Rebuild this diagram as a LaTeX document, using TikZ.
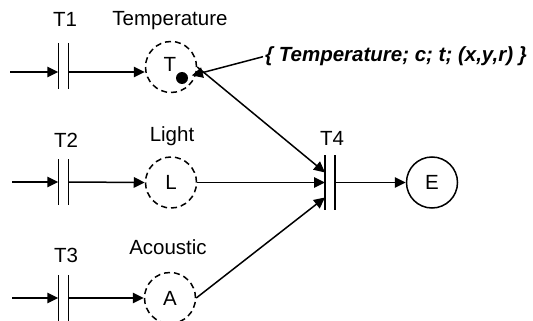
\documentclass[tikz,border=0pt]{standalone}
\usepackage{fontspec}
\setmainfont{Liberation Sans}
\usetikzlibrary{arrows.meta,positioning,calc}

\begin{document}
\begin{tikzpicture}[
  x=1pt, y=-1pt,
  every node/.style={font=\fontsize{20.5}{24}\selectfont},
  place/.style={circle, draw, line width=1.5pt, dash pattern=on 6pt off 4pt, minimum size=51pt, inner sep=0pt},
  final/.style={circle, draw, line width=1.5pt, minimum size=51pt, inner sep=0pt},
  trans/.style={minimum width=10pt, minimum height=46pt, inner sep=0pt, outer sep=0pt},
  lbl/.style={anchor=base, inner sep=0pt},
  arr/.style={line width=1.5pt, -{Triangle[length=11pt, width=10.5pt]}}
]
  \useasboundingbox (0,0) rectangle (533,321);

  % Transitions
  \node[trans] (t1) at (63.3, 66) {};
  \node[trans] (t2) at (63.3, 182) {};
  \node[trans] (t3) at (63.3, 298) {};
  \node[trans, minimum height=55pt] (t4) at (330, 182.5) {};
  \foreach \t in {t1,t2,t3,t4}
    \draw[line width=1.5pt] (\t.north west) -- (\t.south west) (\t.north east) -- (\t.south east);

  % Transition labels
  \node[lbl] (t1lbl) at (65, 27) {T1};
  \node[lbl] (t2lbl) at (66, 147) {T2};
  \node[lbl] (t3lbl) at (66, 262) {T3};
  \node[lbl] (t4lbl) at (332, 145) {T4};

  % Sensor places
  \node[place] (tp) at (171, 67) {};
  \node (tlet) at (170, 64.5) {T};
  \node[circle, fill, minimum size=12pt, inner sep=0pt] (tok) at (182, 78) {};
  \node[place] (lp) at (171, 182.5) {L};
  \node[place] (ap) at (170, 298) {A};
  \node[final] (ep) at (432, 182.5) {E};

  % Place labels
  \node[lbl] (tplbl) at (170, 26) {Temperature};
  \node[lbl] (lplbl) at (172, 141) {Light};
  \node[lbl] (aplbl) at (168, 254) {Acoustic};

  % Token description
  \node[anchor=base west, inner sep=2pt, font=\fontsize{20.5}{24}\selectfont\bfseries\itshape] (annot) at (263, 62) {\{ Temperature; c; t; (x,y,r) \}};
  \draw[arr, shorten >=4pt] (annot.west) -- (tok);

  % Inputs
  \coordinate (in1) at (10, 72);
  \coordinate (in2) at (12, 182);
  \coordinate (in3) at (12, 298);
  \draw[arr] (in1) -- (in1 -| t1.west);
  \draw[arr] (in1 -| t1.east) -- (in1 -| tp.west);
  \draw[arr] (in2) -- (t2.west);
  \draw[arr] (t2.east) -- (lp.west);
  \draw[arr] (in3) -- (t3.west);
  \draw[arr] (t3.east) -- (ap.west);

  % Into T4 and out to E
  \draw[arr] (tp.east) -- ([yshift=10pt]t4.west);
  \draw[arr] (lp.east) -- (lp.east -| t4.west);
  \draw[arr] (ap.east) -- ([yshift=-15pt]t4.west);
  \draw[arr] (t4.east) -- (ep.west);
\end{tikzpicture}
\end{document}
